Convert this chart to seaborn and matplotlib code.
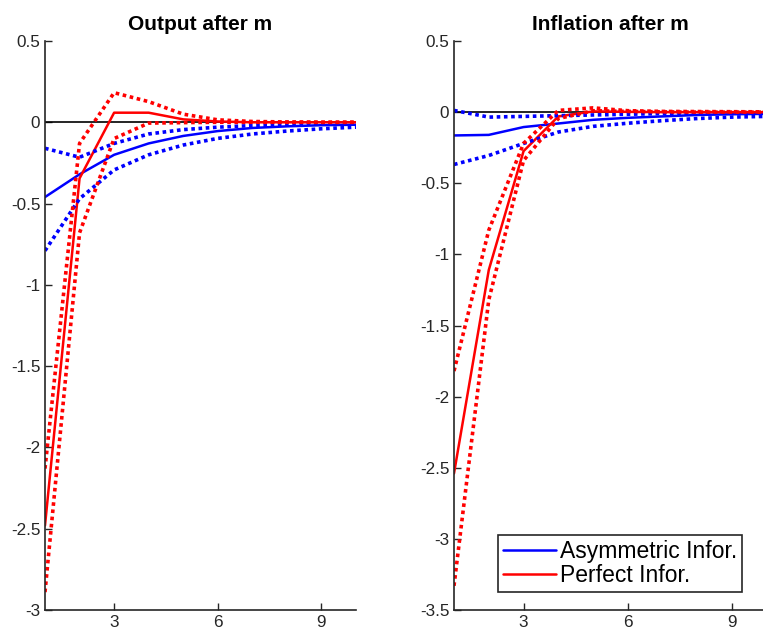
import numpy as np
import pandas as pd
import matplotlib
matplotlib.use("Agg")
import matplotlib.pyplot as plt
import seaborn as sns

sns.set_style("ticks")
plt.rcParams['font.family'] = ['Liberation Sans', 'DejaVu Sans']
plt.rcParams['axes.unicode_minus'] = False

periods = list(range(1, 11))

# Output after m
out_asym = [-0.46, -0.32, -0.20, -0.13, -0.084, -0.054, -0.035, -0.025, -0.018, -0.015]
out_asym_hi = [-0.16, -0.215, -0.13, -0.072, -0.045, -0.03, -0.02, -0.015, -0.01, -0.008]
out_asym_lo = [-0.79, -0.47, -0.293, -0.20, -0.14, -0.099, -0.072, -0.054, -0.04, -0.03]
out_perf = [-2.48, -0.345, 0.059, 0.059, 0.018, 0.005, 0.0, 0.0, 0.0, 0.0]
out_perf_hi = [-2.13, -0.13, 0.182, 0.127, 0.05, 0.015, 0.005, 0.002, 0.0, 0.0]
out_perf_lo = [-2.89, -0.68, -0.10, -0.005, -0.002, 0.0, 0.0, 0.0, 0.0, 0.0]

# Inflation after m
inf_asym = [-0.164, -0.16, -0.105, -0.08, -0.054, -0.04, -0.03, -0.02, -0.015, -0.012]
inf_asym_hi = [0.012, -0.035, -0.03, -0.025, -0.02, -0.015, -0.01, -0.008, -0.006, -0.005]
inf_asym_lo = [-0.368, -0.305, -0.22, -0.14, -0.10, -0.078, -0.06, -0.045, -0.035, -0.03]
inf_perf = [-2.54, -1.11, -0.274, -0.03, 0.005, 0.002, 0.0, 0.0, 0.0, 0.0]
inf_perf_hi = [-1.82, -0.83, -0.22, 0.012, 0.03, 0.01, 0.005, 0.004, 0.003, 0.002]
inf_perf_lo = [-3.33, -1.32, -0.34, -0.045, 0.01, 0.005, 0.002, 0.0, 0.0, 0.0]

titles = ["Output after m", "Inflation after m"]
legend_labels = ["Asymmetric Infor.", "Perfect Infor."]

BLUE = (0, 0, 1)
RED = (1, 0, 0)
GRAY = "#262626"

fig = plt.figure(figsize=(7.63, 6.34), dpi=100)
ax1 = fig.add_axes([45/763, 24/634, 311/763, 569/634])
ax2 = fig.add_axes([454/763, 24/634, 313/763, 569/634])

panels = [
    (ax1, out_asym, out_asym_hi, out_asym_lo, out_perf, out_perf_hi, out_perf_lo, (-3, 0.5), np.arange(-3, 0.51, 0.5)),
    (ax2, inf_asym, inf_asym_hi, inf_asym_lo, inf_perf, inf_perf_hi, inf_perf_lo, (-3.5, 0.5), np.arange(-3.5, 0.51, 0.5)),
]

dot = (0, (1, 1))
for i, (ax, a, ahi, alo, p, phi, plo, ylim, yt) in enumerate(panels):
    ax.axhline(0, color="black", lw=1.2, zorder=1)
    df = pd.DataFrame({"t": periods, "a": a, "ahi": ahi, "alo": alo, "p": p, "phi": phi, "plo": plo})
    sns.lineplot(data=df, x="t", y="a", ax=ax, color=BLUE, lw=1.8, label=legend_labels[0])
    sns.lineplot(data=df, x="t", y="p", ax=ax, color=RED, lw=1.8, label=legend_labels[1])
    for col, c in [("ahi", BLUE), ("alo", BLUE), ("phi", RED), ("plo", RED)]:
        sns.lineplot(data=df, x="t", y=col, ax=ax, color=c, lw=2.6, linestyle=dot, legend=False)
    ax.set_xlim(1, 10)
    ax.set_ylim(*ylim)
    ax.set_xticks([3, 6, 9])
    ax.set_yticks(yt)
    ax.set_yticklabels([("%g" % v) for v in yt])
    ax.set_xlabel("")
    ax.set_ylabel("")
    ax.set_title(titles[i], fontsize=15, fontweight="bold", pad=8, color="black")
    ax.tick_params(direction="in", length=5, width=1, colors=GRAY, labelsize=12.3, labelcolor=GRAY)
    for s in ["top", "right"]:
        ax.spines[s].set_visible(False)
    for s in ["left", "bottom"]:
        ax.spines[s].set_color(GRAY)
        ax.spines[s].set_linewidth(1.2)
    if i == 0:
        ax.get_legend().remove()
    else:
        leg = ax.legend(loc="lower right", bbox_to_anchor=(0.92, 0.032), fontsize=16.5,
                        frameon=True, fancybox=False, edgecolor=GRAY, framealpha=1,
                        handlelength=2.3, handletextpad=0.2, borderpad=0.2, labelspacing=0.05,
                        borderaxespad=0, labelcolor="black")
        leg.get_frame().set_linewidth(1.2)

fig.savefig("out.png", dpi=100)
